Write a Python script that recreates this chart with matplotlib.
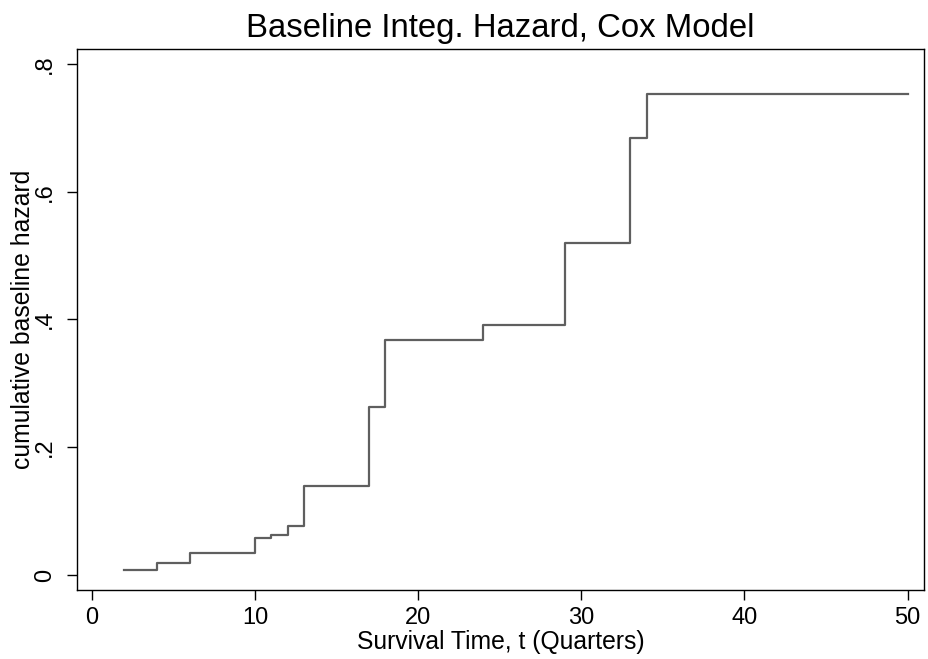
import matplotlib
matplotlib.use("Agg")
import matplotlib.pyplot as plt

# ------------------ DATA ------------------
t_quarters = [2, 4, 6, 10, 11, 12, 13, 17, 18, 24, 29, 33, 34, 50]
cum_hazard = [0.008, 0.018, 0.034, 0.058, 0.062, 0.077, 0.140, 0.263,
              0.368, 0.392, 0.519, 0.684, 0.753, 0.753]
x_ticks = [0, 10, 20, 30, 40, 50]
y_ticks = [0, 0.2, 0.4, 0.6, 0.8]
y_ticklabels = ["0", ".2", ".4", ".6", ".8"]

plt.rcParams.update({
    "font.family": ["Liberation Sans", "DejaVu Sans"],
})

fig = plt.figure(figsize=(9.29, 6.59), dpi=100)
ax = fig.add_axes([0.0829, 0.1047, 0.9117, 0.8202])

ax.step(t_quarters, cum_hazard, where="post", color="#5f5f5f", lw=1.6)

ax.set_xlim(-0.9, 51.0)
ax.set_ylim(-0.0235, 0.8225)
ax.set_xticks(x_ticks)
ax.set_yticks(y_ticks)
ax.set_yticklabels(y_ticklabels, rotation=90, va="center")
ax.tick_params(axis="both", labelsize=17, length=7.2, width=1)
ax.tick_params(axis="x", pad=5)
ax.tick_params(axis="y", pad=8)

for s in ax.spines.values():
    s.set_linewidth(1.0)

ax.set_xlabel("Survival Time, t (Quarters)", fontsize=17.8, labelpad=1)
ax.set_ylabel("cumulative baseline hazard", fontsize=17.8, labelpad=-1)
ax.set_title("Baseline Integ. Hazard, Cox Model", fontsize=23.7, pad=9)

plt.savefig("out.png", dpi=100)
plt.close()
